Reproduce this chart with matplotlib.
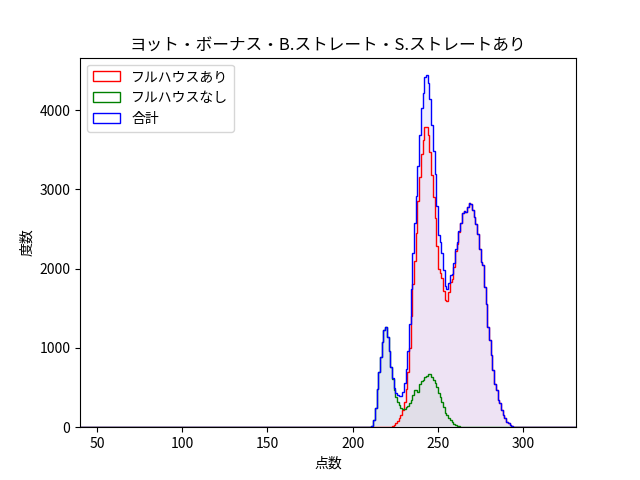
import numpy as np
import matplotlib
matplotlib.use("Agg")
import matplotlib.pyplot as plt

plt.rcParams['font.family'] = ['Noto Sans CJK JP', 'DejaVu Sans']

# Score range of the histogram (1-point bins)
score_min = 40
score_max = 330
# Counts, for scores starting at data_start
data_start = 210
full_house = [  # フルハウスあり
    0, 0, 0, 0, 0, 0, 0, 0, 0, 0,
    0, 0, 5, 15, 30, 55, 80, 110, 150, 220,
    320, 480, 700, 1000, 1400, 1800, 2100, 2450, 2850, 3150,
    3450, 3620, 3790, 3790, 3680, 3470, 3180, 2900, 2640, 2280,
    2000, 1950, 1880, 1720, 1600, 1590, 1700, 1830, 1870, 2020,
    2220, 2310, 2460, 2570, 2700, 2730, 2720, 2780, 2830, 2820,
    2740, 2650, 2560, 2440, 2250, 2080, 2040, 1770, 1560, 1270,
    1100, 910, 720, 550, 470, 340, 300, 215, 155, 110,
    70, 48, 28, 10, 3,
]
no_full_house = [  # フルハウスなし
    5, 15, 90, 240, 480, 690, 880, 1080, 1230, 1270,
    1140, 960, 755, 605, 470, 375, 320, 280, 240, 225,
    235, 250, 265, 300, 340, 400, 470, 465, 450, 540,
    580, 600, 630, 650, 665, 670, 630, 590, 560, 510,
    430, 380, 320, 260, 180, 150, 120, 90, 65, 45,
    30, 20, 10, 5, 0, 0, 0, 0, 0, 0,
    0, 0, 0, 0, 0, 0, 0, 0, 0, 0,
    0, 0, 0, 0, 0, 0, 0, 0, 0, 0,
    0, 0, 0, 0, 0,
]
labels = ['フルハウスあり', 'フルハウスなし', '合計']
colors = ['red', 'green', 'blue']
fill_alpha = [0.042, 0.05, 0.067]

scores = np.arange(score_min, score_max + 1)
edges = np.arange(score_min, score_max + 2)

def full_counts(vals):
    c = np.zeros(len(scores))
    i0 = data_start - score_min
    c[i0:i0 + len(vals)] = vals
    return c

c_fh = full_counts(full_house)
c_nfh = full_counts(no_full_house)
c_tot = c_fh + c_nfh
series = [c_fh, c_nfh, c_tot]

fig, ax = plt.subplots(figsize=(6.4, 4.8), dpi=100)

for c, col, a in zip(series, colors, fill_alpha):
    ax.hist(scores, bins=edges, weights=c, histtype='stepfilled',
            color=col, alpha=a, linewidth=0)
for c, col, lab in zip(series, colors, labels):
    ax.hist(scores, bins=edges, weights=c, histtype='step',
            color=col, linewidth=1.0, label=lab)

ax.set_xlim(edges[0], edges[-1])
ax.set_title('ヨット・ボーナス・B.ストレート・S.ストレートあり')
ax.set_xlabel('点数')
ax.set_ylabel('度数')
ax.legend(loc='upper left')

fig.savefig('out.png', dpi=100)
